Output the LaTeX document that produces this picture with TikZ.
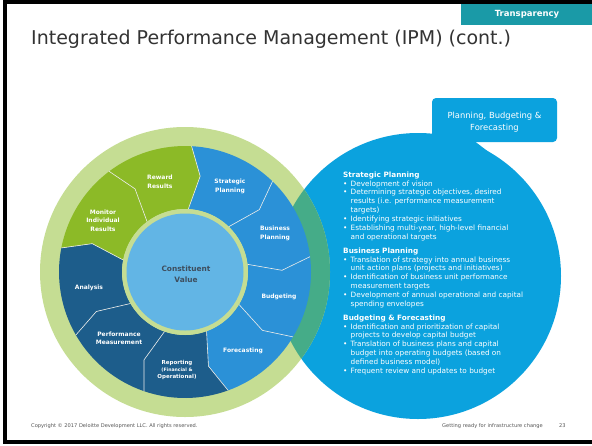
\documentclass[tikz,border=0pt]{standalone}
\usepackage{fontspec}
\setmainfont{DejaVu Sans}
\usetikzlibrary{calc}

\definecolor{hdrteal}{HTML}{1A9AA7}
\definecolor{pbfblue}{HTML}{0BA2DE}
\definecolor{midblue}{HTML}{2B91D7}
\definecolor{darkblue}{HTML}{1D5D8B}
\definecolor{leafgreen}{HTML}{8CBA27}
\definecolor{palegreen}{HTML}{C5DD93}
\definecolor{mixgreen}{HTML}{45AC88}
\definecolor{coreblue}{HTML}{62B5E5}
\definecolor{coretext}{HTML}{3E4E5E}
\definecolor{footgray}{HTML}{555555}
\definecolor{titlegray}{HTML}{333333}

% bullet and continuation indent for the list text
\newcommand\bitem{\makebox[7.5pt][l]{•}}
\newcommand\bcont{\hspace*{7.5pt}}

\begin{document}
\begin{tikzpicture}[x=1pt,y=-1pt,
  seglabel/.style={font=\bfseries\fontsize{6}{8.5}\selectfont, text=white, align=center, inner sep=0},
  circtext/.style={anchor=north west, align=left, inner sep=0, text=white,
                   font=\fontsize{7.3}{8.85}\selectfont},
  footer/.style={anchor=base west, inner sep=0, text=footgray, font=\fontsize{5.1}{6}\selectfont}]
\useasboundingbox (0,0) rectangle (592,445);
\fill[white] (0,0) rectangle (592,445);

% slide frame
\draw[line width=3.5pt] (600,2) -- (5,2) -- (5,442) -- (600,442);

% header tab and title
\fill[hdrteal] (461,3.5) rectangle (592,25);
\node[font=\bfseries\fontsize{8.5}{10}\selectfont, text=white, inner sep=0] (tab) at (527,14) {Transparency};
\node[anchor=base west, inner sep=0, text=titlegray, font=\fontsize{19}{22}\selectfont] (title) at (31,44)
  {Integrated Performance Management (IPM) (cont.)};

% large planning circle
\coordinate (P) at (418,276);
\fill[pbfblue] (P) circle[radius=143];

% callout box with its pointer
\fill[pbfblue, rounded corners=4pt] (432,98) rectangle (557,142);
\fill[pbfblue] (445,140) -- (473,140) -- (490,153) -- (445,153) -- cycle;
\node[text=white, align=center, inner sep=0, font=\fontsize{8.4}{12}\selectfont] (callout) at (494.5,122)
  {Planning, Budgeting \&\\Forecasting};

% outer pale ring of the wheel, tinted where it crosses the planning circle
\coordinate (W) at (185,272);
\fill[palegreen] (W) circle[radius=145];
\begin{scope}
  \clip (P) circle[radius=143];
  \fill[mixgreen] (W) circle[radius=145];
\end{scope}

% wheel segments with chevron-shaped borders
\foreach \a/\b/\c in {-87/-46/midblue, -46/-7/midblue, -7/31/midblue, 31/70/midblue,
                      70/109/darkblue, 109/150/darkblue, 150/191/darkblue,
                      191/233/leafgreen, 233/273/leafgreen}{
  \pgfmathsetmacro\ak{\a+6}
  \pgfmathsetmacro\bk{\b+6}
  \fill[\c] ($(W)+(\a:126)$) arc[start angle=\a, end angle=\b, radius=126]
     -- ($(W)+(\bk:97)$) -- ($(W)+(\b:63)$)
     arc[start angle=\b, end angle=\a, radius=63]
     -- ($(W)+(\ak:97)$) -- cycle;
}
\foreach \a in {-87,-46,-7,31,70,109,150,191,233}{
  \pgfmathsetmacro\ak{\a+6}
  \draw[white!85!gray, line width=0.6pt] ($(W)+(\a:63)$) -- ($(W)+(\ak:97)$) -- ($(W)+(\a:126)$);
}

% hub
\fill[palegreen] (W) circle[radius=63];
\fill[coreblue] (W) circle[radius=58.5];
\node[font=\bfseries\fontsize{7.4}{11}\selectfont, text=coretext, align=center, inner sep=0] (hub) at (186,274.5)
  {Constituent\\Value};

% segment labels
\node[seglabel] (reward)   at (160,182) {Reward\\Results};
\node[seglabel] (strat)    at (230,186.5) {Strategic\\Planning};
\node[seglabel] (monitor)  at (103,220.5) {Monitor\\Individual\\Results};
\node[seglabel] (busplan)  at (275,233.5) {Business\\Planning};
\node[seglabel] (analysis) at (89,288) {Analysis};
\node[seglabel] (budget)   at (279,297) {Budgeting};
\node[seglabel] (perf)     at (119,338.5) {Performance\\Measurement};
\node[seglabel] (fcast)    at (243,351) {Forecasting};
\node[seglabel, font=\bfseries\fontsize{5.5}{7}\selectfont] (report) at (177,370)
  {Reporting\\{\fontsize{4.6}{7}\selectfont(Financial \&}\\Operational)};

% descriptions inside the planning circle
\node[circtext] (sp) at (343,171.5) {\textbf{Strategic Planning}\\
  \bitem Development of vision\\
  \bitem Determining strategic objectives, desired\\
  \bcont results (i.e. performance measurement\\
  \bcont targets)\\
  \bitem Identifying strategic initiatives\\
  \bitem Establishing multi-year, high-level financial\\
  \bcont and operational targets};
\node[circtext] (bp) at (343,247.5) {\textbf{Business Planning}\\
  \bitem Translation of strategy into annual business\\
  \bcont unit action plans (projects and initiatives)\\
  \bitem Identification of business unit performance\\
  \bcont measurement targets\\
  \bitem Development of annual operational and capital\\
  \bcont spending envelopes};
\node[circtext] (bf) at (343,314.5) {\textbf{Budgeting \& Forecasting}\\
  \bitem Identification and prioritization of capital\\
  \bcont projects to develop capital budget\\
  \bitem Translation of business plans and capital\\
  \bcont budget into operating budgets (based on\\
  \bcont defined business model)\\
  \bitem Frequent review and updates to budget};

% footer
\node[footer] (copy) at (31,427.5) {Copyright © 2017 Deloitte Development LLC. All rights reserved.};
\node[footer] (topic) at (442,427.5) {Getting ready for infrastructure change};
\node[footer] (page) at (559,427.5) {23};
\end{tikzpicture}
\end{document}
